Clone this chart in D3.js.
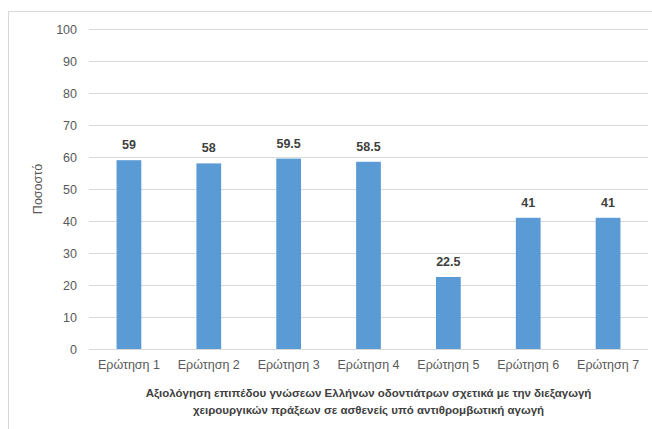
<!DOCTYPE html>
<html>
<head>
<meta charset="utf-8">
<script src="https://cdn.jsdelivr.net/npm/d3@7"></script>
<style>
  html, body { margin: 0; padding: 0; background: #fff; }
  svg { display: block; }
  text { font-family: "Liberation Sans", Arial, sans-serif; }
</style>
</head>
<body>
<svg id="chart" width="652" height="429"></svg>
<script>
// Survey questions and the percentage of correct answers
const categories = ["Ερώτηση 1", "Ερώτηση 2", "Ερώτηση 3", "Ερώτηση 4", "Ερώτηση 5", "Ερώτηση 6", "Ερώτηση 7"];
const values = [59, 58, 59.5, 58.5, 22.5, 41, 41];
const yTicks = [0, 10, 20, 30, 40, 50, 60, 70, 80, 90, 100];
const yTitle = "Ποσοστό";
const xTitleLines = [
  "Αξιολόγηση επιπέδου γνώσεων Ελλήνων οδοντιάτρων σχετικά με την διεξαγωγή",
  "χειρουργικών πράξεων σε ασθενείς υπό αντιθρομβωτική αγωγή"
];

const svg = d3.select("#chart");
const margin = { left: 89, right: 4, top: 29, bottom: 80 };
const W = 652, H = 429;

// Chart frame
svg.append("rect")
  .attr("x", 8.5).attr("y", 11.5)
  .attr("width", 700).attr("height", 500)
  .attr("fill", "none").attr("stroke", "#d9d9d9").attr("stroke-width", 1);

const x = d3.scaleBand()
  .domain(categories)
  .range([margin.left, W - margin.right])
  .paddingInner(0.69).paddingOuter(0.345);

const y = d3.scaleLinear().domain([0, 100]).range([349, 29]);

// Horizontal gridlines
svg.append("g")
  .selectAll("line")
  .data(yTicks)
  .join("line")
  .attr("x1", margin.left).attr("x2", 648)
  .attr("y1", d => Math.round(y(d)) + 0.5)
  .attr("y2", d => Math.round(y(d)) + 0.5)
  .attr("stroke", "#d9d9d9").attr("stroke-width", 1);

// Y tick labels
const yAxis = d3.axisLeft(y).tickValues(yTicks).tickSize(0).tickPadding(0);
const gy = svg.append("g").attr("transform", "translate(77,0)").call(yAxis);
gy.select(".domain").remove();
gy.selectAll("text")
  .attr("fill", "#595959")
  .style("font-size", "12.5px")
  .style("font-family", "'Liberation Sans', Arial, sans-serif");

// Bars
svg.append("g")
  .selectAll("rect")
  .data(values)
  .join("rect")
  .attr("x", (d, i) => x(categories[i]))
  .attr("y", d => y(d))
  .attr("width", x.bandwidth())
  .attr("height", d => y(0) - y(d))
  .attr("fill", "#5b9bd5");

// Value labels
svg.append("g")
  .selectAll("text")
  .data(values)
  .join("text")
  .attr("x", (d, i) => x(categories[i]) + x.bandwidth() / 2)
  .attr("y", d => y(d) - 11)
  .attr("text-anchor", "middle")
  .attr("fill", "#404040")
  .style("font-size", "12.5px")
  .style("font-weight", "bold")
  .text(d => d);

// X category labels
const xAxis = d3.axisBottom(x).tickSize(0).tickPadding(0);
const gx = svg.append("g").attr("transform", "translate(0,360)").call(xAxis);
gx.select(".domain").remove();
gx.selectAll("text")
  .attr("fill", "#595959")
  .style("font-size", "12.5px")
  .style("font-family", "'Liberation Sans', Arial, sans-serif");

// X axis title
svg.append("g")
  .selectAll("text")
  .data(xTitleLines)
  .join("text")
  .attr("x", (margin.left + 648) / 2)
  .attr("y", (d, i) => 397 + i * 17)
  .attr("text-anchor", "middle")
  .attr("fill", "#404040")
  .style("font-size", "11.5px")
  .style("font-weight", "bold")
  .text(d => d);

// Y axis title
svg.append("text")
  .attr("transform", `translate(42,${y(50)}) rotate(-90)`)
  .attr("text-anchor", "middle")
  .attr("fill", "#595959")
  .style("font-size", "12.5px")
  .text(yTitle);
</script>
</body>
</html>
